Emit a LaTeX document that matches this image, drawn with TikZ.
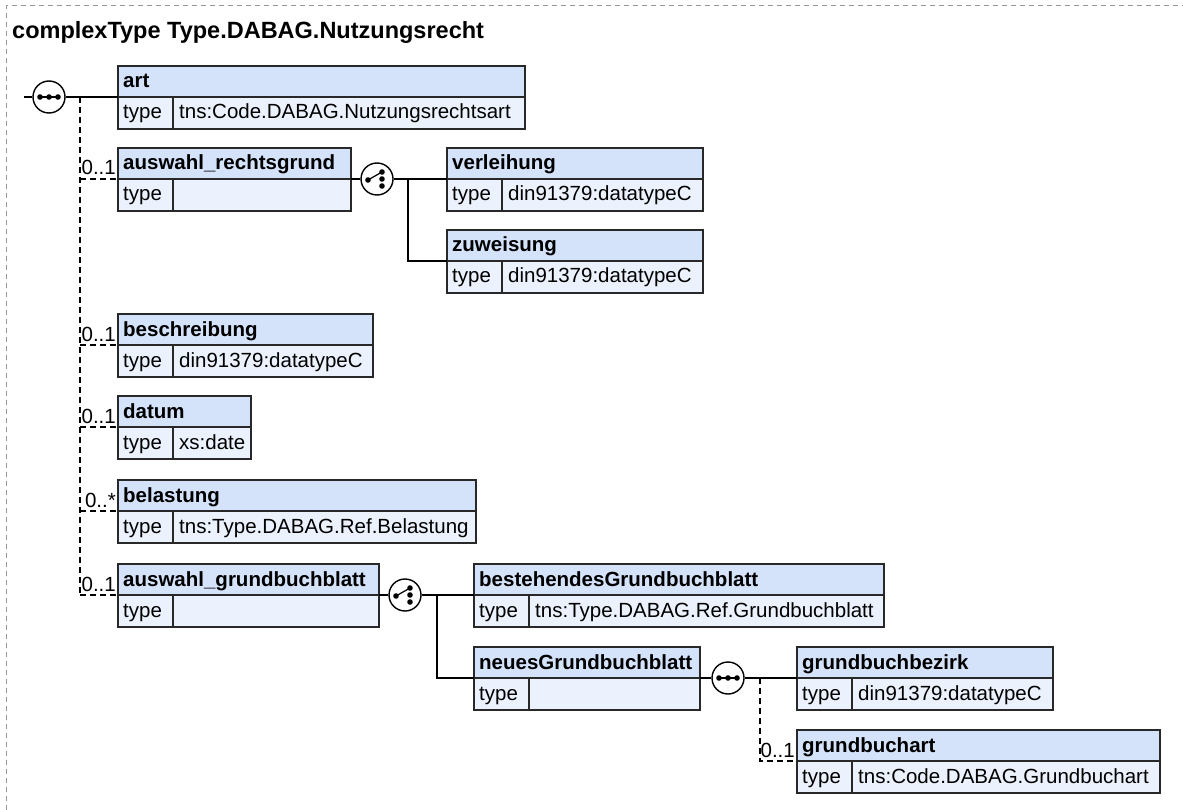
\documentclass[tikz,border=0pt]{standalone}
\usepackage{fontspec}
\setmainfont{Liberation Sans}
\usetikzlibrary{calc}
\definecolor{hdrfill}{RGB}{212,226,250}
\definecolor{typfill}{RGB}{236,242,253}
\definecolor{edgec}{RGB}{40,40,40}
\definecolor{framec}{RGB}{150,150,150}
\tikzset{
  boxrow/.style={draw=edgec, line width=1.4pt, inner sep=0pt, outer sep=0pt, anchor=north west},
  hdr/.style={boxrow, fill=hdrfill, minimum height=31pt},
  typ/.style={boxrow, fill=typfill, minimum height=32pt},
  txt/.style={anchor=base west, inner sep=0pt, font=\fontsize{20.5}{24}\selectfont},
  btxt/.style={anchor=base west, inner sep=0pt, font=\fontsize{20.5}{24}\selectfont\bfseries},
  conn/.style={line width=1.4pt, draw=black},
  opt/.style={conn, dash pattern=on 6pt off 4pt},
  card/.style={anchor=base east, inner sep=0pt, font=\fontsize{20.5}{24}\selectfont},
  icon/.style={circle, draw=black, line width=1.4pt, fill=white, minimum size=32pt, inner sep=0pt},
}
\newcommand\xsdbox[6]{%
  \node[hdr, minimum width={(#3-#2)*1pt}] (#1) at (#2,#4) {};
  \node[typ, minimum width=55pt] (#1-k) at (#1.south west) {};
  \node[typ, minimum width={(#3-#2-55)*1pt}] (#1-v) at (#1-k.north east) {};
  \node[btxt] (#1-name) at ($(#1.north west)+(5,22)$) {#5};
  \node[txt] (#1-key) at ($(#1-k.north west)+(5,22)$) {type};
  \node[txt] (#1-val) at ($(#1-v.north west)+(6,22)$) {#6};
}
\newcommand\seqicon[2]{%
  \node[icon] (#1) at #2 {};
  \draw[line width=1.2pt] ($(#1)+(-9,0)$) -- ($(#1)+(9,0)$);
  \foreach \dx in {-9,0,9} \fill ($(#1)+(\dx,0)$) circle (2.8pt);
}
\newcommand\choiceicon[2]{%
  \node[icon] (#1) at #2 {};
  \draw[line width=1.2pt] ($(#1)+(-9,1)$) -- ($(#1)+(5,-7)$);
  \fill ($(#1)+(-9,1)$) circle (2.8pt);
  \foreach \dy in {-7,0,7} \fill ($(#1)+(5,\dy)$) circle (2.8pt);
}
\begin{document}
\begin{tikzpicture}[x=1pt,y=-1pt]
\useasboundingbox (0,0) rectangle (1183,810);
\draw[framec, line width=1pt, dash pattern=on 5pt off 4pt] (6,810) -- (6,6) -- (1183,6);
\node[anchor=base west, inner sep=0pt, font=\fontsize{23.5}{28}\selectfont\bfseries] (title) at (12,39) {complexType Type.DABAG.Nutzungsrecht};

\xsdbox{art}{118}{525}{66}{art}{tns:Code.DABAG.Nutzungsrechtsart}
\xsdbox{ar}{118}{351}{148}{auswahl\_rechtsgrund}{}
\xsdbox{ver}{447}{703}{148}{verleihung}{din91379:datatypeC}
\xsdbox{zuw}{447}{703}{230}{zuweisung}{din91379:datatypeC}
\xsdbox{bes}{118}{373}{314}{beschreibung}{din91379:datatypeC}
\xsdbox{dat}{118}{251}{396}{datum}{xs:date}
\xsdbox{bel}{118}{476}{480}{belastung}{tns:Type.DABAG.Ref.Belastung}
\xsdbox{ag}{118}{379}{564}{auswahl\_grundbuchblatt}{}
\xsdbox{bgb}{474}{884}{564}{bestehendesGrundbuchblatt}{tns:Type.DABAG.Ref.Grundbuchblatt}
\xsdbox{ngb}{474}{700}{647}{neuesGrundbuchblatt}{}
\xsdbox{gbz}{797}{1053}{647}{grundbuchbezirk}{din91379:datatypeC}
\xsdbox{gba}{797}{1160}{730}{grundbuchart}{tns:Code.DABAG.Grundbuchart}

% main sequence
\coordinate (s0in) at (24,97);
\coordinate (tr) at (80,97);
\draw[opt] (tr) -- (tr |- ag.south west);
\foreach \bx in {ar,bes,dat,bel,ag} \draw[opt] (tr |- \bx.south west) -- (\bx.south west);
\seqicon{s0}{(49,97)}
\draw[conn] (s0in) -- (s0.west);
\draw[conn] (s0.east) -- (art.south west);
\node[card] (card-ar) at ($(ar.south west)+(-2,-4)$) {0..1};
\node[card] (card-bes) at ($(bes.south west)+(-2,-4)$) {0..1};
\node[card] (card-dat) at ($(dat.south west)+(-2,-4)$) {0..1};
\node[card] (card-bel) at ($(bel.south west)+(-2,-4)$) {0..*};
\node[card] (card-ag) at ($(ag.south west)+(-2,-4)$) {0..1};

% choice 1
\coordinate (j1) at (408,179);
\draw[conn] (j1) |- (zuw.south west);
\choiceicon{ch1}{(377,179)}
\draw[conn] (ar.south east) -- (ch1.west);
\draw[conn] (ch1.east) -- (ver.south west);

% choice 2
\coordinate (j2) at (437,595);
\draw[conn] (j2) |- (ngb.south west);
\choiceicon{ch2}{(405,595)}
\draw[conn] (ag.south east) -- (ch2.west);
\draw[conn] (ch2.east) -- (bgb.south west);

% sequence 2
\coordinate (j3) at (760,678);
\draw[opt] (j3) |- (gba.south west);
\seqicon{s1}{(728,678)}
\draw[conn] (ngb.south east) -- (s1.west);
\draw[conn] (s1.east) -- (gbz.south west);
\node[card] (card-gba) at ($(gba.south west)+(-2,-4)$) {0..1};
\end{tikzpicture}
\end{document}
